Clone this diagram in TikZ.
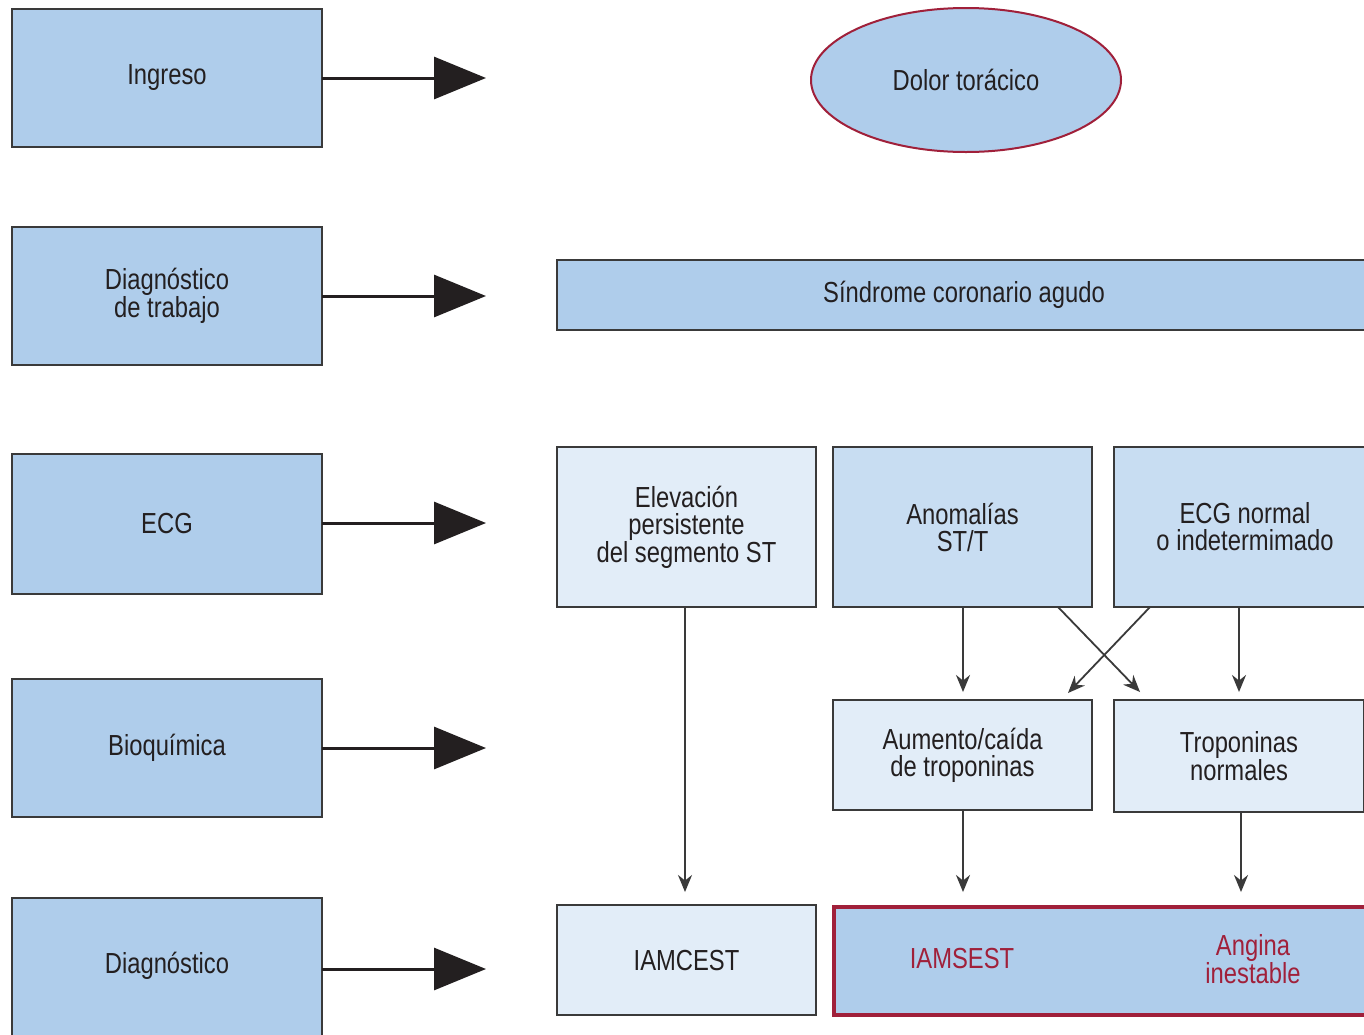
\documentclass[tikz,border=0pt]{standalone}
\usepackage{fontspec}
\setmainfont{Liberation Sans}[FakeStretch=0.82]
\usetikzlibrary{arrows.meta,shapes.geometric}
\definecolor{bluefill}{HTML}{AFCDEB}
\definecolor{midfill}{HTML}{C8DDF2}
\definecolor{lightfill}{HTML}{E2EDF8}
\definecolor{darkred}{HTML}{A0203A}
\definecolor{txt}{HTML}{231F20}
\definecolor{edge}{HTML}{3A3A3A}
\tikzset{
  box/.style={draw=edge, line width=2pt, inner sep=0pt, outer sep=0pt, align=center,
    text=txt, font=\fontsize{29}{27}\selectfont},
  leftbox/.style={box, fill=bluefill, minimum width=310pt, minimum height=138pt},
  bigarrow/.style={draw=txt, line width=3pt, -{Triangle[length=52pt,width=42pt]}},
  smallarrow/.style={draw=edge, line width=1.8pt, -{Stealth[length=17pt,width=14pt]}},
  lbl/.style={inner sep=0pt, align=center, font=\fontsize{29}{27}\selectfont},
}
\begin{document}
\begin{tikzpicture}[x=1pt,y=-1pt]
\useasboundingbox (0,0) rectangle (1364,1034);
\fill[white] (0,0) rectangle (1364,1034);
% left column
\node[leftbox] (ingreso) at (167,78) {Ingreso};
\node[leftbox] (dxtrab) at (167,296) {Diagnóstico\\de trabajo};
\node[leftbox, minimum height=140pt] (ecg) at (167,524) {ECG};
\node[leftbox] (bioq) at (167,748) {Bioquímica};
\node[leftbox, minimum height=150pt, text depth=0pt] (dx) at (167,973) {};
\node[lbl, text=txt] (dxl) at (167,966) {Diagnóstico};
% arrow endpoints
\coordinate (e1) at (486,78);
\coordinate (e2) at (486,296);
\coordinate (e3) at (486,523);
\coordinate (e4) at (486,748);
\coordinate (e5) at (486,969);
\draw[bigarrow] (ingreso.east) -- (e1);
\draw[bigarrow] (dxtrab.east) -- (e2);
\draw[bigarrow] (ecg.east |- e3) -- (e3);
\draw[bigarrow] (bioq.east) -- (e4);
\draw[bigarrow] (dx.east |- e5) -- (e5);
% right column
\node[ellipse, draw=darkred, line width=2pt, fill=bluefill, minimum width=310pt, minimum height=144pt,
  inner sep=0pt, text=txt, font=\fontsize{29}{27}\selectfont] (dolor) at (966,80) {Dolor torácico};
\node[box, fill=bluefill, minimum width=814pt, minimum height=70pt] (sca) at (964,295) {Síndrome coronario agudo};
\node[box, fill=lightfill, minimum width=259pt, minimum height=160pt] (elev) at (686.5,527) {Elevación\\persistente\\del segmento ST};
\node[box, fill=midfill, minimum width=259pt, minimum height=160pt] (anom) at (962.5,527) {Anomalías\\ST/T};
\node[box, fill=midfill, minimum width=262pt, minimum height=160pt] (norm) at (1245,527) {ECG normal\\o indetermimado};
\node[box, fill=lightfill, minimum width=259pt, minimum height=110pt] (aum) at (962.5,755) {Aumento/caída\\de troponinas};
\node[box, fill=lightfill, minimum width=250pt, minimum height=112pt] (trop) at (1239,756) {Troponinas\\normales};
\node[box, fill=lightfill, minimum width=259pt, minimum height=110pt] (iamcest) at (686.5,960) {IAMCEST};
\node[box, draw=darkred, line width=4pt, fill=bluefill, minimum width=540pt, minimum height=108pt] (sest) at (1104,961) {};
\node[lbl, text=darkred] (iamsest) at (962,958) {IAMSEST};
\node[lbl, text=darkred] (angina) at (1253,959) {Angina\\inestable};
% small arrows
\coordinate (t1) at (685,892);
\coordinate (t2) at (963,692);
\coordinate (t3) at (1239,692);
\coordinate (t4) at (1140,692);
\coordinate (t5) at (1068,693);
\coordinate (t6) at (963,892);
\coordinate (t7) at (1241,892);
\draw[smallarrow] (elev.south -| t1) -- (t1);
\draw[smallarrow] (anom.south -| t2) -- (t2);
\draw[smallarrow] (norm.south -| t3) -- (t3);
\draw[smallarrow] (anom.south -| 1058,0) -- (t4);
\draw[smallarrow] (norm.south -| 1150,0) -- (t5);
\draw[smallarrow] (aum.south -| t6) -- (t6);
\draw[smallarrow] (trop.south -| t7) -- (t7);
\end{tikzpicture}
\end{document}
